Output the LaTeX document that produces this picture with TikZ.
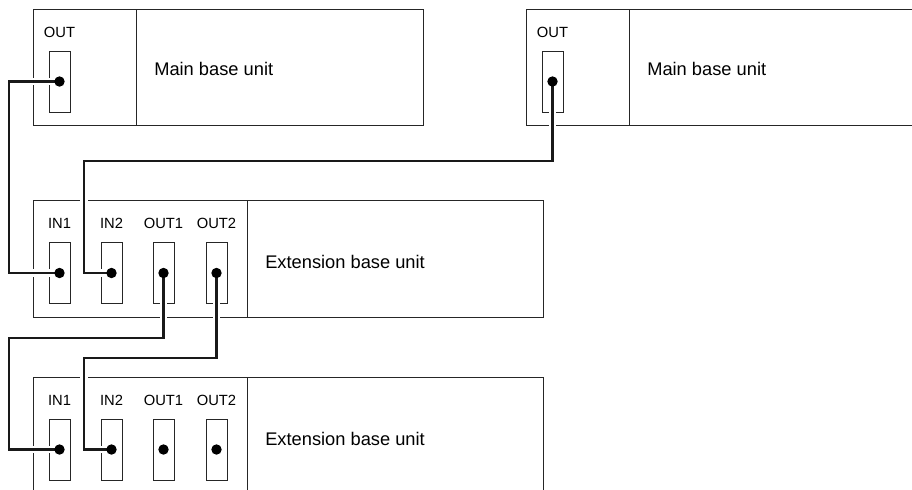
\documentclass[tikz,border=0pt]{standalone}
\usepackage{fontspec}
\setmainfont{Liberation Sans}
\usetikzlibrary{positioning}

\begin{document}
\begin{tikzpicture}[x=0.025cm,y=-0.025cm,
  frame/.style={draw=black!85,line width=0.7pt},
  port/.style={draw=black!85,line width=0.6pt,minimum width=0.525cm,minimum height=1.525cm,inner sep=0},
  lbl/.style={font=\fontsize{10.5}{12}\selectfont,inner sep=0},
  unitname/.style={font=\fontsize{13}{15}\selectfont,inner sep=0,anchor=west},
  cable/.style={line width=2pt,black!90,preaction={draw,white,line width=5.2pt}},
  pin/.style={circle,fill=black,inner sep=0,minimum size=0.26cm}]

  \clip (0,0) rectangle (912,489);

  % Main base unit (left)
  \draw[frame] (33,9) rectangle (423,125) (136,9) -- (136,125);
  \node[port] (M1) at (59.5,81.5) {};
  \node[lbl,above=0.32cm of M1] (M1l) {OUT};
  \node[unitname] (M1n) at (154,69) {Main base unit};

  % Main base unit (right)
  \draw[frame] (940,9) -- (526,9) -- (526,125) -- (940,125) (629,9) -- (629,125);
  \node[port] (M2) at (552.5,81.5) {};
  \node[lbl,above=0.32cm of M2] (M2l) {OUT};
  \node[unitname] (M2n) at (647,69) {Main base unit};

  % Extension base unit (upper)
  \draw[frame] (33,200) rectangle (543,317) (247,200) -- (247,317);
  \node[port] (E1a) at (59.5,273) {};
  \node[port] (E1b) at (111.5,273) {};
  \node[port] (E1c) at (163.5,273) {};
  \node[port] (E1d) at (216.5,273) {};
  \node[lbl,above=0.32cm of E1a] (E1al) {IN1};
  \node[lbl,above=0.32cm of E1b] (E1bl) {IN2};
  \node[lbl,above=0.32cm of E1c] (E1cl) {OUT1};
  \node[lbl,above=0.32cm of E1d] (E1dl) {OUT2};
  \node[unitname] (E1n) at (265,262) {Extension base unit};

  % Extension base unit (lower)
  \draw[frame] (33,520) -- (33,377) -- (543,377) -- (543,520) (247,377) -- (247,520);
  \node[port] (E2a) at (59.5,449.5) {};
  \node[port] (E2b) at (111.5,449.5) {};
  \node[port] (E2c) at (163.5,449.5) {};
  \node[port] (E2d) at (216.5,449.5) {};
  \node[lbl,above=0.32cm of E2a] (E2al) {IN1};
  \node[lbl,above=0.32cm of E2b] (E2bl) {IN2};
  \node[lbl,above=0.32cm of E2c] (E2cl) {OUT1};
  \node[lbl,above=0.32cm of E2d] (E2dl) {OUT2};
  \node[unitname] (E2n) at (265,439) {Extension base unit};

  % Cable lanes
  \coordinate (LA) at (9,338);
  \coordinate (LB) at (84,161);
  \coordinate (LC) at (84,358);

  % Cables
  \draw[cable] (M1.center) -- (M1.center -| LA) |- (E1a.center);
  \draw[cable] (M2.center) |- (LB) |- (E1b.center);
  \draw[cable] (E1c.center) |- (LA) |- (E2a.center);
  \draw[cable] (E1d.center) |- (LC) |- (E2b.center);

  % Pins
  \node[pin] (M1p) at (M1) {};
  \node[pin] (M2p) at (M2) {};
  \node[pin] (E1ap) at (E1a) {};
  \node[pin] (E1bp) at (E1b) {};
  \node[pin] (E1cp) at (E1c) {};
  \node[pin] (E1dp) at (E1d) {};
  \node[pin] (E2ap) at (E2a) {};
  \node[pin] (E2bp) at (E2b) {};
  \node[pin] (E2cp) at (E2c) {};
  \node[pin] (E2dp) at (E2d) {};
\end{tikzpicture}
\end{document}
